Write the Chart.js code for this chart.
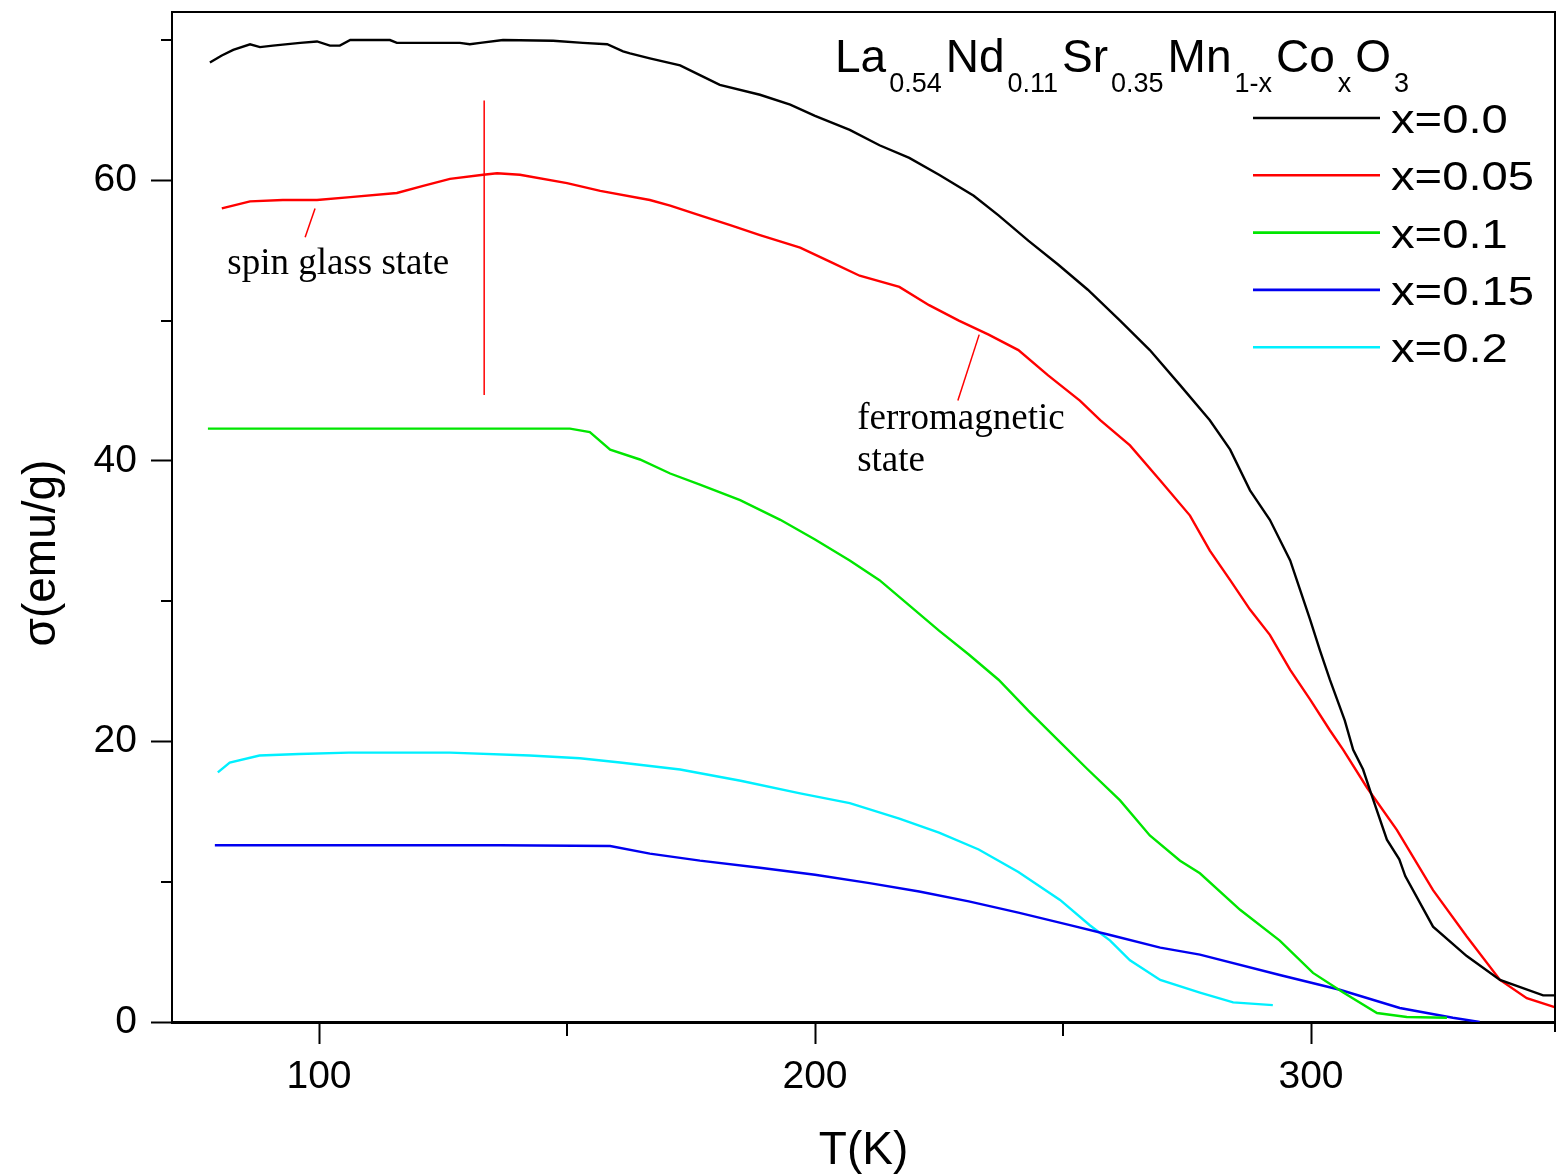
<!DOCTYPE html>
<html><head><meta charset="utf-8">
<script src="https://cdn.jsdelivr.net/npm/chart.js@4.4.1/dist/chart.umd.min.js"></script>
<style>html,body{margin:0;padding:0;background:#fff}canvas{display:block}</style>
</head><body>
<canvas id="c" width="1557" height="1174"></canvas>
<script>
// ---- data (T in K, sigma in emu/g) ----
const seriesLabels = ['x=0.0','x=0.05','x=0.1','x=0.15','x=0.2'];
const seriesColors = ['#000000','#ff0000','#00e600','#0000f0','#00f0ff'];

const T_x00 = [78.0,80.4,82.7,86.1,88.1,90.7,96.2,99.6,102.2,104.2,106.3,114.3,115.7,128.4,130.4,132.5,137.1,147.2,153.2,158.1,161.3,162.7,166.7,172.8,176.8,180.8,188.9,195,200,207,213,219,225,232,237,243,249,255,261.5,267.5,273.6,279.6,283.7,287.7,291.7,295.8,297.8,299.8,301.8,303.8,306.8,308.5,310.5,312,315.3,317.8,319,324.6,331.4,338.1,346.8,349.6];
const S_x00 = [68.4,68.9,69.3,69.7,69.5,69.6,69.8,69.9,69.6,69.6,70.0,70.0,69.8,69.8,69.7,69.8,70.0,69.95,69.8,69.7,69.2,69.05,68.7,68.2,67.5,66.8,66.1,65.4,64.6,63.6,62.5,61.6,60.4,58.9,57.5,55.7,54.0,52.2,50.0,47.9,45.4,42.9,40.8,37.9,35.8,32.9,30.8,28.7,26.5,24.4,21.5,19.4,18.0,16.4,13.0,11.6,10.4,6.8,4.7,3.0,1.9,1.9];

const T_x005 = [80.4,86.1,92.7,99.6,106.3,115.7,121,126.4,133.1,135.9,140.5,150,156.7,166.7,170.8,176.8,182.9,188.9,197,203,209,217,223,229,235,241,247,253.4,257.5,263.5,269.6,275.6,279.6,283.7,287.7,291.7,295.8,299.8,303.8,306.5,311.3,317.3,324.6,331.4,338.1,343.5,349.6];
const S_x005 = [58.0,58.5,58.6,58.6,58.8,59.1,59.6,60.1,60.4,60.5,60.4,59.8,59.25,58.6,58.2,57.5,56.8,56.1,55.2,54.2,53.2,52.4,51.1,50.0,49.0,47.9,46.1,44.3,42.9,41.1,38.6,36.1,33.6,31.5,29.4,27.6,25.1,23.0,20.8,19.4,16.7,13.7,9.4,6.1,3.0,1.7,1.0];

const T_x01 = [77.6,86,96,116.3,136.5,150.6,154.6,158.7,164.7,170.8,176.8,184.9,193,200,207,213,219,225,231,237,243,249,255,261.5,267.5,273.6,277.6,285.7,293.7,300.4,306.5,313.3,319.3,327.4];
const S_x01 = [42.3,42.3,42.3,42.3,42.3,42.3,42.05,40.8,40.1,39.1,38.3,37.2,35.8,34.4,32.9,31.5,29.7,27.9,26.2,24.4,22.2,20.1,18.0,15.8,13.3,11.5,10.6,8.0,5.8,3.5,2.1,0.64,0.36,0.3];

const T_x015 = [79,96,116,136.5,158.7,166.7,176.8,188.9,200,211,221,231,241,251.4,259.5,269.6,277.6,293.7,305.8,317.9,328.6,334];
const S_x015 = [12.6,12.6,12.6,12.6,12.55,12.0,11.5,11.0,10.5,9.9,9.3,8.6,7.8,6.9,6.2,5.3,4.8,3.35,2.3,1.0,0.3,0.0];

const T_x02 = [79.6,82,88,96,106,126.4,142.5,152.6,160.7,172.8,185,197,207,217,225,233,241,249.4,255.4,259.5,263.5,269.6,277.6,284.3,292.3];
const S_x02 = [17.8,18.5,19.0,19.1,19.2,19.2,19.0,18.8,18.5,18.0,17.2,16.3,15.6,14.5,13.5,12.3,10.7,8.7,6.9,5.8,4.4,3.0,2.1,1.4,1.2];

const xMajorTicks = [100,200,300];
const xMinorTicks = [150,250];
const yMajorTicks = [0,20,40,60];
const yMinorTicks = [10,30,50,70];

// annotations (data coordinates)
const markerLineT = [133.3,133.3];
const markerLineS = [44.7,65.7];
const glassLeaderT = [99.2,97.2];
const glassLeaderS = [58.0,55.95];
const ferroLeaderT = [233.1,228.8];
const ferroLeaderS = [49.0,44.3];
const glassLabel = {text:'spin glass state', t:81.5, s:53.3};
const ferroLabel = [{text:'ferromagnetic', t:208.5, s:42.3},{text:'state', t:208.5, s:39.3}];
const titleParts = [['La',0],['0.54',1],['Nd',0],['0.11',1],['Sr',0],['0.35',1],['Mn',0],['1-x',1],['Co',0],['x',1],['O',0],['3',1]];

const pts = (T,S)=>T.map((t,i)=>({x:t,y:S[i]}));
const allT=[T_x00,T_x005,T_x01,T_x015,T_x02], allS=[S_x00,S_x005,S_x01,S_x015,S_x02];
const datasets = seriesLabels.map((lab,i)=>({
  label:lab, data:pts(allT[i],allS[i]), borderColor:seriesColors[i], backgroundColor:seriesColors[i],
  borderWidth:2.4, pointRadius:0, tension:0, fill:false
}));

const SANS='"Liberation Sans", Arial, sans-serif';
const SERIF='"Liberation Serif", "Times New Roman", serif';

const deco = {
  id:'deco',
  afterDraw(chart){
    const ctx=chart.ctx, xs=chart.scales.x, ys=chart.scales.y, ca=chart.chartArea;
    ctx.save();
    // frame top & right
    ctx.strokeStyle='#000'; ctx.lineWidth=2;
    ctx.beginPath(); ctx.moveTo(ca.left,ca.top); ctx.lineTo(ca.right,ca.top); ctx.lineTo(ca.right,ca.bottom+10); ctx.stroke();
    // minor ticks
    ctx.lineWidth=2;
    yMinorTicks.forEach(v=>{const y=Math.round(ys.getPixelForValue(v)); ctx.beginPath(); ctx.moveTo(ca.left-11,y); ctx.lineTo(ca.left,y); ctx.stroke();});
    xMinorTicks.forEach(v=>{const x=Math.round(xs.getPixelForValue(v)); ctx.beginPath(); ctx.moveTo(x,ca.bottom); ctx.lineTo(x,ca.bottom+14); ctx.stroke();});
    // annotation lines
    ctx.strokeStyle='#ff0000'; ctx.lineWidth=1.5;
    [[markerLineT,markerLineS],[glassLeaderT,glassLeaderS],[ferroLeaderT,ferroLeaderS]].forEach(([T,S])=>{
      ctx.beginPath(); ctx.moveTo(xs.getPixelForValue(T[0]),ys.getPixelForValue(S[0]));
      ctx.lineTo(xs.getPixelForValue(T[1]),ys.getPixelForValue(S[1])); ctx.stroke();
    });
    // annotation text
    ctx.fillStyle='#000'; ctx.font='37px '+SERIF; ctx.textBaseline='alphabetic'; ctx.textAlign='left';
    [glassLabel,...ferroLabel].forEach(l=>ctx.fillText(l.text,xs.getPixelForValue(l.t),ys.getPixelForValue(l.s)));
    // formula title
    let x=835;
    titleParts.forEach(([s,sub])=>{
      ctx.font=(sub?'27px ':'46px ')+SANS;
      ctx.fillText(s,x,sub?92:72);
      x+=ctx.measureText(s).width+(sub?4:3);
    });
    // legend
    const lx0=1253,lx1=1380,ly0=118,dy=57.3;
    chart.data.datasets.forEach((d,i)=>{
      const y=ly0+i*dy;
      ctx.strokeStyle=d.borderColor; ctx.lineWidth=2.6;
      ctx.beginPath(); ctx.moveTo(lx0,y); ctx.lineTo(lx1,y); ctx.stroke();
      ctx.save(); ctx.translate(1391,y+15); ctx.scale(1.18,1);
      ctx.fillStyle='#000'; ctx.font='40px '+SANS; ctx.fillText(d.label,0,0); ctx.restore();
    });
    // y title
    ctx.save(); ctx.translate(42,553); ctx.rotate(-Math.PI/2);
    ctx.font='46px '+SANS; ctx.textAlign='center'; ctx.textBaseline='middle'; ctx.fillStyle='#000';
    ctx.fillText('\u03c3(emu/g)',0,0); ctx.restore();
    ctx.restore();
  }
};

new Chart(document.getElementById('c'),{
  type:'line',
  data:{datasets},
  options:{
    responsive:false, animation:false, devicePixelRatio:1,
    layout:{padding:{left:0,right:2,top:12,bottom:0}},
    plugins:{legend:{display:false},title:{display:false},tooltip:{enabled:false}},
    scales:{
      x:{type:'linear',min:70.36,max:349.19,
        afterBuildTicks:s=>{s.ticks=xMajorTicks.map(v=>({value:v}));},
        afterFit:s=>{s.height=152; s.paddingLeft=0; s.paddingRight=0;},
        grid:{drawOnChartArea:false,drawTicks:true,tickLength:22,tickWidth:2,tickColor:'#000'},
        border:{display:true,color:'#000',width:3},
        ticks:{font:{family:SANS,size:39},color:'#000',padding:10,maxRotation:0,autoSkip:false},
        title:{display:true,text:'T(K)',font:{family:SANS,size:46,lineHeight:1.0},color:'#000',padding:{top:0,bottom:0}}
      },
      y:{type:'linear',min:0,max:72,
        afterBuildTicks:s=>{s.ticks=yMajorTicks.map(v=>({value:v}));},
        afterFit:s=>{s.width=172; s.paddingTop=0; s.paddingBottom=0;},
        grid:{drawOnChartArea:false,drawTicks:true,tickLength:21,tickWidth:2,tickColor:'#000'},
        border:{display:true,color:'#000',width:2},
        ticks:{font:{family:SANS,size:39},color:'#000',padding:14,autoSkip:false}
      }
    }
  },
  plugins:[deco]
});
</script>
</body></html>
